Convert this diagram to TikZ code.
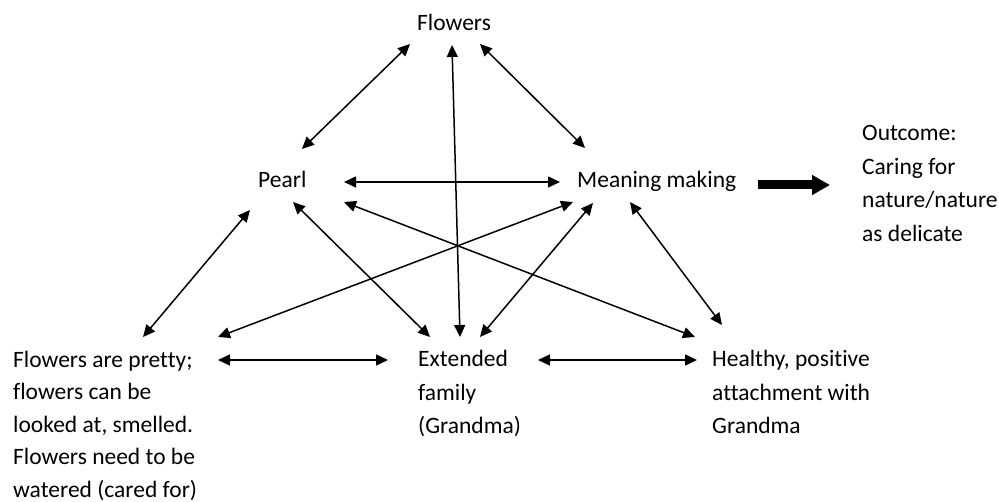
\documentclass[tikz,border=0pt]{standalone}
\usepackage{fontspec}
\setmainfont[Ligatures=NoCommon]{Carlito}
\usetikzlibrary{arrows.meta}
\begin{document}
\begin{tikzpicture}[x=1pt,y=-1pt,
  % text nodes are placed by the baseline of their last line
  txt/.style={anchor=base west, inner sep=0pt, align=left,
    font=\fontsize{23.5}{33.5}\selectfont},
  link/.style={line width=1.5pt,
    {Triangle[length=12pt,width=11pt]}-{Triangle[length=12pt,width=11pt]}},
  outcomearrow/.style={line width=9pt, -{Triangle[length=18pt,width=19pt]}}]
\useasboundingbox (0,0) rectangle (999,502);

% concepts
\node[txt] (flowers)  at (417,31)    {Flowers};
\node[txt] (pearl)    at (258,188)   {Pearl};
\node[txt] (meaning)  at (577,188)   {Meaning making};
\node[txt] (outcome)  at (862,241.5) {Outcome:\\Caring for\\nature/nature\\as delicate};
\node[txt, font=\fontsize{23.5}{32.5}\selectfont] (pretty) at (13,497)
  {Flowers are pretty;\\flowers can be\\looked at, smelled.\\Flowers need to be\\watered (cared for)};
\node[txt] (extended) at (418,434)   {Extended\\family\\(Grandma)};
\node[txt] (healthy)  at (712,434)   {Healthy, positive\\attachment with\\Grandma};

% two-way links
\draw[link] ([shift={(-7,13)}]flowers.base west)    -- ([shift={(44,-39)}]pearl.base west);
\draw[link] ([shift={(35,14)}]flowers.base west)    -- ([shift={(42,-97)}]extended.base west);
\draw[link] ([shift={(63,13)}]flowers.base west)    -- ([shift={(8,-40)}]meaning.base west);
\draw[link] ([shift={(86,-6)}]pearl.base west)      -- ([shift={(-17,-6)}]meaning.base west);
\draw[link] ([shift={(-8,22)}]pearl.base west)      -- ([shift={(130,-160)}]pretty.base west);
\draw[link] ([shift={(35,14)}]pearl.base west)      -- ([shift={(12,-97)}]extended.base west);
\draw[link] ([shift={(86,14)}]pearl.base west)      -- ([shift={(-17,-97)}]healthy.base west);
\draw[link] ([shift={(-4,14)}]meaning.base west)    -- ([shift={(205,-160)}]pretty.base west);
\draw[link] ([shift={(16,15)}]meaning.base west)    -- ([shift={(62,-97)}]extended.base west);
\draw[link] ([shift={(53,14)}]meaning.base west)    -- ([shift={(10,-109)}]healthy.base west);
\draw[link] ([shift={(205,-137)}]pretty.base west)  -- ([shift={(-30,-74)}]extended.base west);
\draw[link] ([shift={(120,-74)}]extended.base west) -- ([shift={(-15,-74)}]healthy.base west);

% result
\draw[outcomearrow] ([shift={(181,-3)}]meaning.base west) -- ([shift={(-32,-56.5)}]outcome.base west);
\end{tikzpicture}
\end{document}
